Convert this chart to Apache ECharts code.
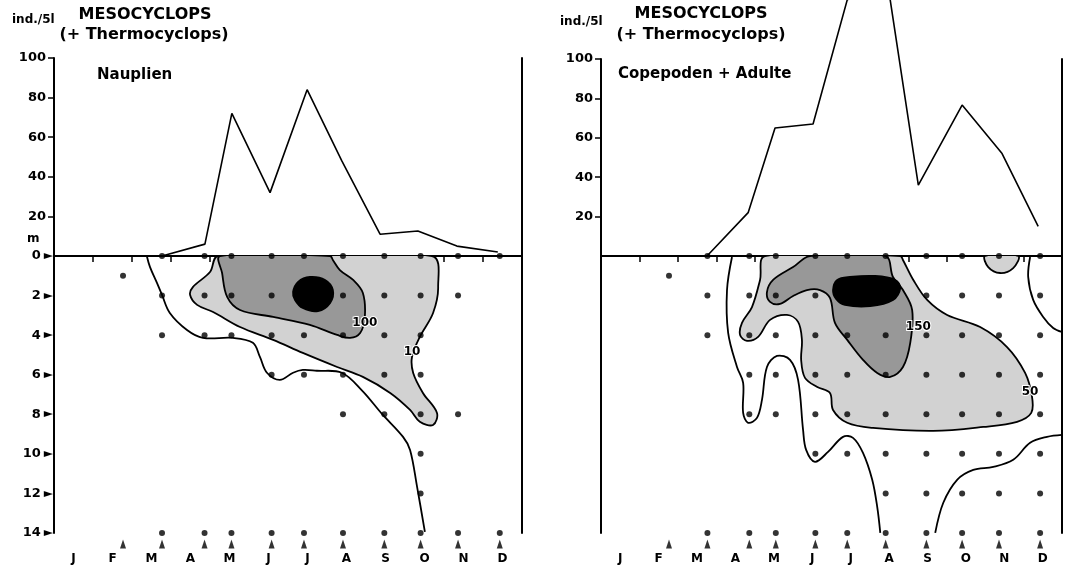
<!DOCTYPE html>
<html><head><meta charset="utf-8">
<script src="https://cdn.jsdelivr.net/npm/echarts@6/dist/echarts.min.js"></script>
<style>html,body{margin:0;padding:0;background:#fff}#c{width:1066px;height:568px}</style>
</head><body><div id="c"></div>
<script>
// ---------- DATA ----------
const months = ['J','F','M','A','M','J','J','A','S','O','N','D'];
const abundanceTicks = [0,20,40,60,80,100];
const depthTicks = [0,2,4,6,8,10,12,14];
// sampling dates (in months from 1 Jan)
const sampleDates = [1.77,2.77,3.86,4.55,5.58,6.41,7.41,8.47,9.40,10.36,11.43];
// depths sampled at each date (m)
const naupDepths = [[1],[0,2,4,14],[0,2,4,14],[0,2,4,14],[0,2,4,6,14],[0,2,4,6,14],[0,2,4,6,8,14],[0,2,4,6,8,14],[0,2,4,6,8,10,12,14],[0,2,8,14],[0,14]];
const copeDepths = [[1],[0,2,4,14],[0,2,4,6,8,14],[0,2,4,6,8,14],[0,2,4,6,8,10,14],[0,2,4,6,8,10,14],[0,2,4,6,8,10,12,14],[0,2,4,6,8,10,12,14],[0,2,4,6,8,10,12,14],[0,2,4,6,8,10,12,14],[0,2,4,6,8,10,12,14]];
// abundance (ind./5l)
const naupMonths = [2.77,3.87,4.56,5.54,6.49,7.38,8.36,9.33,10.33,11.38];
const naupValues = [0,6,72,32,84,48,11,12.6,5,2];
const copeMonths = [2.76,3.83,4.53,5.52,6.41,7.45,8.26,9.40,10.44,11.38];
const copeValues = [0,22,65,67,130,140,36,76.6,52,15];
// isoline traces [month, depth]
const naupIso1 = [[2.38,0],[2.46,0.55],[2.64,1.36],[2.77,1.97],[2.97,2.88],[3.41,3.74],[3.82,4.14],[4.59,4.14],[5.1,4.39],[5.28,5.1],[5.46,5.9],[5.79,6.26],[6.13,5.9],[6.38,5.76],[6.74,5.8],[7.38,5.9],[7.9,6.8],[8.41,7.98],[8.95,9.14],[9.13,9.8],[9.31,11.67],[9.51,13.94]];
const naupIso10 = [[4.21,0],[4.0,0.81],[3.56,1.57],[3.49,1.97],[3.67,2.47],[4.08,2.83],[4.77,3.59],[5.62,4.24],[6.38,4.9],[7.26,5.61],[7.92,6.11],[8.62,6.92],[9.13,7.78],[9.38,8.38],[9.72,8.54],[9.82,7.93],[9.46,6.92],[9.21,5.91],[9.18,5.1],[9.38,4.09],[9.72,2.88],[9.85,1.57],[9.69,0]];
const naupIso100 = [[4.26,0],[4.31,0.86],[4.44,2.07],[4.77,2.73],[5.62,3.08],[6.56,3.48],[7.26,3.99],[7.59,4.14],[7.85,3.89],[7.97,3.08],[7.92,1.87],[7.67,1.21],[7.33,0.71],[7.15,0.2],[7.08,0]];
const naupCore = [[6.13,1.82],[6.26,1.31],[6.56,1.06],[6.95,1.21],[7.15,1.72],[7.08,2.37],[6.77,2.78],[6.38,2.63],[6.18,2.22]];
const naupLabels = [[7.97,3.38,'100'],[9.18,4.85,'10']];
const copeIsoA = [[3.41,0.05],[3.28,1.72],[3.31,3.89],[3.54,5.61],[3.70,6.41],[3.70,7.93],[3.83,8.43],[4.06,8.18],[4.19,7.27],[4.32,5.61],[4.58,5.05],[4.92,5.25],[5.13,6.26],[5.26,8.79],[5.34,9.8],[5.57,10.4],[5.91,9.9],[6.3,9.14],[6.56,9.19],[6.82,9.95],[7.06,11.31],[7.19,12.68],[7.27,13.99]];
const copeIsoB = [[8.70,13.99],[8.91,12.47],[9.27,11.31],[9.69,10.81],[10.21,10.66],[10.73,10.3],[11.17,9.44],[11.61,9.14],[12.0,9.04]];
const copeIsoC = [[11.17,0.05],[11.12,1.06],[11.25,2.22],[11.51,3.08],[11.77,3.64],[12.0,3.84]];
const copeBump = [[10.0,0],[10.08,0.56],[10.39,0.86],[10.73,0.61],[10.86,0]];
const copeIso50 = [[4.27,0],[4.14,1.21],[3.93,2.58],[3.67,3.38],[3.62,3.99],[3.80,4.29],[4.09,4.09],[4.40,3.23],[4.84,2.98],[5.13,3.33],[5.23,4.24],[5.21,5.25],[5.31,6.16],[5.63,6.62],[5.96,6.92],[6.04,7.78],[6.41,8.43],[7.08,8.69],[8.65,8.84],[9.95,8.64],[10.83,8.38],[11.2,7.93],[11.22,7.12],[11.04,5.91],[10.57,4.6],[9.87,3.59],[9.01,2.98],[8.49,2.22],[8.13,1.21],[7.86,0.2],[7.79,0]];
const copeIso150 = [[5.44,0],[5.0,0.56],[4.48,1.21],[4.32,1.82],[4.40,2.32],[4.66,2.42],[5.0,2.02],[5.36,1.72],[5.70,1.72],[5.96,2.12],[6.09,3.38],[6.41,4.24],[6.82,5.25],[7.19,5.91],[7.53,6.11],[7.86,5.61],[8.05,4.39],[8.10,2.73],[7.86,1.72],[7.60,1.06],[7.40,0]];
const copeCore = [[6.04,1.72],[6.15,1.21],[6.48,1.06],[7.14,1.01],[7.66,1.21],[7.79,1.62],[7.60,2.22],[7.01,2.53],[6.35,2.47],[6.12,2.17]];
const copeLabels = [[8.26,3.59,'150'],[11.17,6.87,'50']];

// ---------- STYLE / OPTION ----------
const FONT = '"DejaVu Sans", sans-serif';
const LIGHT = '#d2d2d2', MID = '#989898';
const chart = echarts.init(document.getElementById('c'));

function dots(dates, depths) {
  const out = [];
  dates.forEach((m, i) => depths[i].forEach(d => out.push([m, d])));
  return out;
}
function contour(xi, yi, shapes) {
  return {
    type: 'custom', xAxisIndex: xi, yAxisIndex: yi, clip: true, silent: true, z: 2,
    data: shapes.map((s, i) => [i]),
    renderItem: (params, api) => {
      const s = shapes[params.dataIndex];
      const pts = s.pts.map(p => api.coord([p[0], p[1]]));
      if (s.fill) {
        return {type: 'polygon', shape: {points: pts, smooth: 0.35},
          style: {fill: s.fill, stroke: '#000', lineWidth: 1.8}};
      }
      return {type: 'polyline', shape: {points: pts, smooth: 0.35},
        style: {fill: null, stroke: '#000', lineWidth: 1.8}};
    }
  };
}
function labelSeries(xi, yi, labels) {
  return {
    type: 'custom', xAxisIndex: xi, yAxisIndex: yi, silent: true, z: 6,
    data: labels.map(l => [l[0], l[1]]),
    renderItem: (params, api) => {
      const c = api.coord([api.value(0), api.value(1)]);
      return {type: 'text', x: c[0], y: c[1], style: {text: labels[params.dataIndex][2],
        font: 'bold 12px ' + FONT, fill: '#000', align: 'center', verticalAlign: 'middle',
        stroke: '#fff', lineWidth: 2}};
    }
  };
}
const axisLineStyle = {show: true, lineStyle: {color: '#000', width: 2}};
function topX(g) { return {gridIndex: g, type: 'value', min: 0, max: 12, axisLine: axisLineStyle, axisTick: {show: false}, axisLabel: {show: false}, splitLine: {show: false}}; }
function botX(g) {
  return {gridIndex: g, type: 'value', min: 0, max: 12, interval: 1, axisLine: axisLineStyle,
    axisTick: {show: true, length: 6, lineStyle: {color: '#000', width: 1.5}},
    axisLabel: {show: true, customValues: months.map((m, i) => i + 0.5),
      formatter: v => months[Math.floor(v)], margin: 20, color: '#000', fontFamily: FONT, fontWeight: 'bold', fontSize: 12},
    splitLine: {show: false}};
}
function topY(g) {
  return {gridIndex: g, type: 'value', min: abundanceTicks[0], max: abundanceTicks[abundanceTicks.length - 1], interval: 20,
    axisLine: axisLineStyle,
    axisTick: {show: true, length: 6, customValues: abundanceTicks.slice(1), lineStyle: {color: '#000', width: 1.5}},
    axisLabel: {show: true, customValues: abundanceTicks.slice(1), margin: 8, color: '#000', fontFamily: FONT, fontWeight: 'bold', fontSize: 13},
    splitLine: {show: false}};
}
function rightY(g, max, inv) { return {gridIndex: g, type: 'value', position: 'right', min: 0, max: max, inverse: !!inv, axisLine: axisLineStyle, axisTick: {show: false}, axisLabel: {show: false}, splitLine: {show: false}}; }
function depthY(g, labels) {
  return {gridIndex: g, type: 'value', inverse: true, min: depthTicks[0], max: depthTicks[depthTicks.length - 1], interval: 2,
    axisLine: axisLineStyle, axisTick: {show: false},
    axisLabel: {show: labels, margin: 1, formatter: v => '{n|' + v + '}{a|►}',
      rich: {n: {color: '#000', fontFamily: FONT, fontWeight: 'bold', fontSize: 13}, a: {color: '#000', fontFamily: FONT, fontSize: 12, padding: [0, 0, 0, 3]}}},
    splitLine: {show: false}};
}
function arrowSeries(xi, yi) {
  return {type: 'scatter', xAxisIndex: xi, yAxisIndex: yi, clip: false, silent: true, symbol: 'triangle', symbolSize: [6, 9],
    itemStyle: {color: '#000'}, data: sampleDates.map(m => [m, 14.55])};
}
function dotSeries(xi, yi, depths) {
  return {type: 'scatter', xAxisIndex: xi, yAxisIndex: yi, silent: true, symbol: 'circle', symbolSize: 6, z: 5,
    itemStyle: {color: '#000'}, data: dots(sampleDates, depths)};
}
function lineSeries(xi, yi, ms, vs) {
  return {type: 'line', xAxisIndex: xi, yAxisIndex: yi, clip: false, silent: true, symbol: 'none',
    lineStyle: {color: '#000', width: 1.6}, data: ms.map((m, i) => [m, vs[i]])};
}
function text(x, y, t, size, align) {
  return {type: 'text', x: x, y: y, style: {text: t, font: 'bold ' + size + 'px ' + FONT, fill: '#000', align: align || 'left', verticalAlign: 'middle'}};
}

const option = {
  animation: false,
  backgroundColor: '#fff',
  grid: [
    {left: 54, top: 58, width: 468, height: 198},
    {left: 54, top: 256, width: 468, height: 277},
    {left: 601, top: 59, width: 461, height: 197},
    {left: 601, top: 256, width: 461, height: 277}
  ],
  xAxis: [topX(0), botX(1), topX(2), botX(3)],
  yAxis: [topY(0), rightY(0, 100), depthY(1, true), rightY(1, 14, true), topY(2), rightY(2, 100), depthY(3, false), rightY(3, 14, true)],
  graphic: [
    text(12, 20, 'ind./5l', 12), text(145, 15, 'MESOCYCLOPS', 16, 'center'), text(144, 35, '(+ Thermocyclops)', 16, 'center'),
    text(97, 75, 'Nauplien', 15), text(27, 239, 'm', 12),
    text(560, 22, 'ind./5l', 12), text(701, 14, 'MESOCYCLOPS', 16, 'center'), text(701, 35, '(+ Thermocyclops)', 16, 'center'),
    text(618, 74, 'Copepoden + Adulte', 15)
  ],
  series: [
    lineSeries(0, 0, naupMonths, naupValues),
    contour(1, 2, [
      {pts: naupIso10, fill: LIGHT},
      {pts: naupIso100, fill: MID},
      {pts: naupCore, fill: '#000'},
      {pts: naupIso1}
    ]),
    labelSeries(1, 2, naupLabels),
    dotSeries(1, 2, naupDepths),
    arrowSeries(1, 2),
    lineSeries(2, 4, copeMonths, copeValues),
    contour(3, 6, [
      {pts: copeIso50, fill: LIGHT},
      {pts: copeBump, fill: LIGHT},
      {pts: copeIso150, fill: MID},
      {pts: copeCore, fill: '#000'},
      {pts: copeIsoA}, {pts: copeIsoB}, {pts: copeIsoC}
    ]),
    labelSeries(3, 6, copeLabels),
    dotSeries(3, 6, copeDepths),
    arrowSeries(3, 6)
  ]
};
chart.setOption(option);
</script></body></html>
